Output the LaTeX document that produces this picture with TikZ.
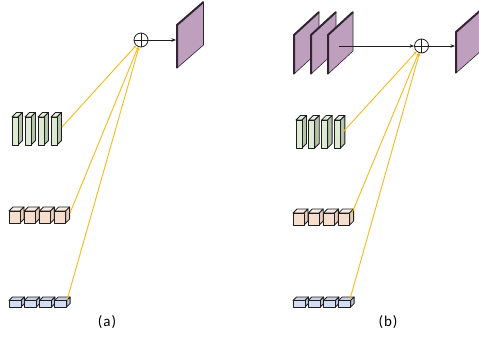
\documentclass[tikz,border=0pt]{standalone}
\usepackage{fontspec}
\setmainfont{Carlito}
\usetikzlibrary{arrows.meta}

\definecolor{planefill}{RGB}{190,160,190}
\definecolor{planeedge}{RGB}{50,36,50}
\definecolor{slabF}{RGB}{222,234,212}
\definecolor{slabS}{RGB}{180,196,170}
\definecolor{slabT}{RGB}{232,240,224}
\definecolor{cubeF}{RGB}{246,222,206}
\definecolor{cubeS}{RGB}{232,203,186}
\definecolor{cubeT}{RGB}{250,236,226}
\definecolor{flatF}{RGB}{212,222,242}
\definecolor{flatS}{RGB}{186,196,216}
\definecolor{flatT}{RGB}{200,208,226}
\definecolor{linkcol}{RGB}{246,186,24}
\definecolor{ink}{RGB}{30,30,30}

\tikzset{
  blockline/.style={draw=ink, line width=0.85pt, line join=round},
  oplus/.style={circle, draw=ink, line width=0.8pt, minimum size=14pt, inner sep=0pt,
    path picture={\draw[ink, line width=0.8pt]
      (path picture bounding box.north) -- (path picture bounding box.south)
      (path picture bounding box.west) -- (path picture bounding box.east);}},
  flow/.style={draw=ink, line width=0.7pt, -{Stealth[length=4.5pt,width=3.5pt]}},
  link/.style={draw=linkcol, line width=0.9pt, -{Stealth[length=3pt,width=2.8pt]}},
  caption/.style={font=\fontsize{15}{17}\selectfont, inner sep=0pt}
}

% cuboid: x, front-top y, width, height, depth, front, side, top colours
\newcommand\cuboid[8]{%
  \filldraw[fill=#8, blockline] (#1,#2) -- ++(#5,-#5) -- ++(#3,0) -- ++(-#5,#5) -- cycle;
  \filldraw[fill=#7, blockline] (#1+#3,#2) -- ++(#5,-#5) -- ++(0,#4) -- ++(-#5,#5) -- cycle;
  \filldraw[fill=#6, blockline] (#1,#2) rectangle ++(#3,#4);
}

% feature plane: left x, bottom-left y, width, height, rise
\newcommand\featplane[5]{%
  \filldraw[fill=planefill, draw=planeedge, line width=0.6pt]
    (#1,#2) -- ++(0,-#4) -- ++(#3,-#5) -- ++(0,#4) -- cycle;
  \draw[planeedge, line width=2pt, line join=round]
    (#1,#2) -- ++(0,-#4) -- ++(#3,-#5);
}

\begin{document}
\begin{tikzpicture}[x=1pt,y=-1pt]
\path[use as bounding box] (0,0) rectangle (479,338);
\clip (0,0) rectangle (479,338);

% ---------- panel (a) ----------
\foreach \i in {0,...,3} {
  \cuboid{12+13*\i}{117}{6}{28}{4.5}{slabF}{slabS}{slabT}
  \cuboid{9+15.2*\i}{211}{11}{12}{4}{cubeF}{cubeS}{cubeT}
  \cuboid{9+15.2*\i}{300.5}{12}{6.5}{3.5}{flatF}{flatS}{flatT}
}
\featplane{177}{68}{26.5}{43}{23}

\node[oplus] (sumA) at (141,40) {};
\coordinate (inA) at (176,40);
\coordinate (gA) at (62,127);
\coordinate (cA) at (70,213);
\coordinate (fA) at (67,300);

\draw[flow] (sumA) -- (inA);
\draw[link] (gA) -- (sumA);
\draw[link] (cA) -- (sumA);
\draw[link] (fA) -- (sumA);

\node[caption] (labA) at (107,322) {(\kern1pt a\kern1pt)};

% ---------- panel (b) ----------
\foreach \i in {0,...,3} {
  \cuboid{296+12.8*\i}{120}{6}{28}{4.5}{slabF}{slabS}{slabT}
  \cuboid{293+15.2*\i}{213}{11}{12}{4}{cubeF}{cubeS}{cubeT}
  \cuboid{293+15.2*\i}{300.5}{12}{6.5}{3.5}{flatF}{flatS}{flatT}
}
\featplane{294}{74}{25}{39}{23}
\featplane{311}{74}{25}{39}{23}
\featplane{328}{74}{25}{39}{23}
\featplane{456}{73}{26}{41}{23}

\node[oplus] (sumB) at (421.5,46) {};
\coordinate (srcB) at (339,46);
\coordinate (inB) at (455,46);
\coordinate (gB) at (343,132);
\coordinate (cB) at (352,213);
\coordinate (fB) at (350,299);

\draw[flow] (srcB) -- (sumB);
\draw[flow] (sumB) -- (inB);
\draw[link] (gB) -- (sumB);
\draw[link] (cB) -- (sumB);
\draw[link] (fB) -- (sumB);

\node[caption] (labB) at (388,322) {(\kern1pt b\kern1pt)};
\end{tikzpicture}
\end{document}
